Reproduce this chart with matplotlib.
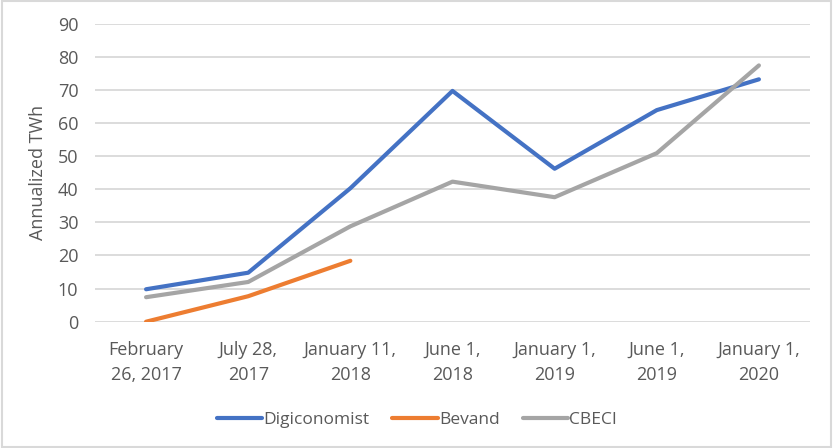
import matplotlib.pyplot as plt
from matplotlib.patches import Rectangle

plt.rcParams['font.family'] = ['Liberation Sans Narrow', 'Open Sans', 'DejaVu Sans']

# Данные
dates = ['February\n26, 2017', 'July 28,\n2017', 'January 11,\n2018', 'June 1,\n2018',
         'January 1,\n2019', 'June 1,\n2019', 'January 1,\n2020']
digiconomist = [9.8, 14.8, 40.3, 69.7, 46.2, 63.9, 73.2]
bevand = [0.0, 7.7, 18.4]
cbeci = [7.4, 12.0, 28.8, 42.3, 37.6, 50.9, 77.4]

text_color = '#595959'
grid_color = '#d9d9d9'

fig = plt.figure(figsize=(8.34, 4.48), dpi=100)
ax = fig.add_axes([0.1139, 0.2819, 0.8573, 0.6652])

x = list(range(len(dates)))
ax.plot(x, digiconomist, color='#4472C4', linewidth=3, label='Digiconomist', solid_capstyle='round')
ax.plot(x[:len(bevand)], bevand, color='#ED7D31', linewidth=3, label='Bevand', solid_capstyle='round')
ax.plot(x, cbeci, color='#A5A5A5', linewidth=3, label='CBECI', solid_capstyle='round')

ax.set_xlim(-0.5, len(dates) - 0.5)
ax.set_ylim(0, 90)
ax.set_yticks(range(0, 91, 10))
ax.set_xticks(x)
ax.set_xticklabels(dates, linespacing=1.5)
ax.tick_params(length=0, labelsize=13, colors=text_color)
ax.tick_params(axis='x', pad=14)
ax.tick_params(axis='y', pad=12)
ax.grid(axis='y', color=grid_color, linewidth=1.3)
ax.set_axisbelow(True)
for s in ax.spines.values():
    s.set_visible(False)
ax.set_ylabel('Annualized TWh', fontsize=13, color=text_color, labelpad=8)

fig.legend(loc='lower center', bbox_to_anchor=(0.5, 0.01), ncol=3, frameon=False,
           fontsize=12.5, labelcolor=text_color, handlelength=2.6, handletextpad=0.1,
           columnspacing=1.3)

# рамка вокруг графика
fig.patches.append(Rectangle((0.002, 0.003), 0.995, 0.994, transform=fig.transFigure,
                             fill=False, edgecolor=grid_color, linewidth=1.5))

fig.savefig('out.png', dpi=100)
